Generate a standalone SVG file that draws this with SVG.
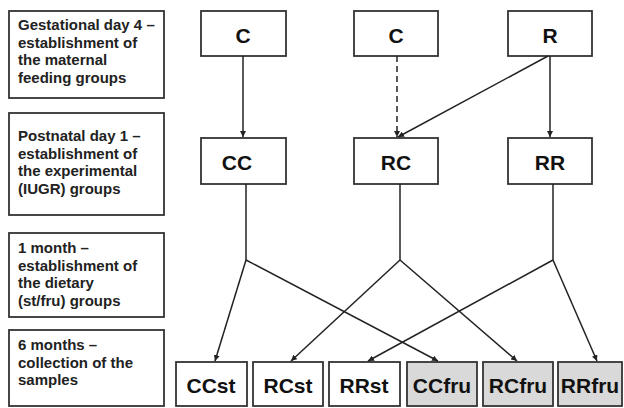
<svg xmlns="http://www.w3.org/2000/svg" width="624" height="408" viewBox="0 0 624 408">
<style>
.box{fill:#fff;stroke:#333;stroke-width:1.8}
.grey{fill:#d9d9d9}
.lt{font-family:"Liberation Sans",Arial,sans-serif;font-weight:bold;font-size:15px;fill:#222}
.nt{font-family:"Liberation Sans",Arial,sans-serif;font-weight:bold;font-size:21px;fill:#111;text-anchor:middle}
.ln{fill:none;stroke:#222;stroke-width:1.5}
</style>
<defs>
<marker id="ah" viewBox="0 0 10 10" refX="10" refY="5" markerWidth="6" markerHeight="6" markerUnits="userSpaceOnUse" orient="auto">
<path d="M0,0 L10,5 L0,10 z" fill="#222"/>
</marker>
</defs>
<rect width="624" height="408" fill="#fff"/>
<g id="stage1"><rect class="box" x="9" y="11" width="155" height="87"/>
<text class="lt" x="18"><tspan x="18" y="30">Gestational day 4 –</tspan><tspan x="18" y="47.5">establishment of</tspan><tspan x="18" y="65">the maternal</tspan><tspan x="18" y="82.5">feeding groups</tspan></text></g>
<g id="stage2"><rect class="box" x="9" y="113" width="155" height="102"/>
<text class="lt"><tspan x="18" y="141">Postnatal day 1 –</tspan><tspan x="18" y="158.5">establishment of</tspan><tspan x="18" y="176">the experimental</tspan><tspan x="18" y="193.5">(IUGR) groups</tspan></text></g>
<g id="stage3"><rect class="box" x="9" y="233" width="155" height="84"/>
<text class="lt"><tspan x="18" y="253">1 month –</tspan><tspan x="18" y="270.5">establishment of</tspan><tspan x="18" y="288">the dietary</tspan><tspan x="18" y="305.5">(st/fru) groups</tspan></text></g>
<g id="stage4"><rect class="box" x="9" y="330" width="155" height="76"/>
<text class="lt"><tspan x="18" y="350">6 months –</tspan><tspan x="18" y="367.5">collection of the</tspan><tspan x="18" y="385">samples</tspan></text></g>

<g id="C1"><rect class="box" x="201" y="11" width="85" height="45"/><text class="nt" x="243" y="43">C</text></g>
<g id="C2"><rect class="box" x="354" y="11" width="84" height="45"/><text class="nt" x="396" y="43">C</text></g>
<g id="R"><rect class="box" x="508" y="11" width="84" height="45"/><text class="nt" x="550" y="43">R</text></g>

<g id="CC"><rect class="box" x="201" y="138" width="85" height="46"/><text class="nt" x="237" y="170">CC</text></g>
<g id="RC"><rect class="box" x="354" y="138" width="84" height="46"/><text class="nt" x="396" y="170">RC</text></g>
<g id="RR"><rect class="box" x="508" y="138" width="84" height="46"/><text class="nt" x="550" y="170">RR</text></g>

<g id="CCst"><rect class="box" x="176" y="362" width="71" height="44"/><text class="nt" x="211" y="393">CCst</text></g>
<g id="RCst"><rect class="box" x="253" y="362" width="70" height="44"/><text class="nt" x="288" y="393">RCst</text></g>
<g id="RRst"><rect class="box" x="329" y="362" width="71" height="44"/><text class="nt" x="364" y="393">RRst</text></g>
<g id="CCfru"><rect class="box grey" x="407" y="362" width="70" height="44"/><text class="nt" x="442" y="393">CCfru</text></g>
<g id="RCfru"><rect class="box grey" x="483" y="362" width="70" height="44"/><text class="nt" x="518" y="393">RCfru</text></g>
<g id="RRfru"><rect class="box grey" x="558" y="362" width="64" height="44"/><text class="nt" x="590" y="393">RRfru</text></g>

<g id="connectors">
<line class="ln" x1="243" y1="56" x2="243" y2="137" marker-end="url(#ah)"/>
<line class="ln" x1="397" y1="56" x2="397" y2="137" stroke-dasharray="6,4" marker-end="url(#ah)"/>
<line class="ln" x1="548" y1="56" x2="398" y2="137" marker-end="url(#ah)"/>
<line class="ln" x1="550" y1="56" x2="550" y2="137" marker-end="url(#ah)"/>
<polyline class="ln" points="246,184 246,260"/>
<polyline class="ln" points="400,184 400,260"/>
<polyline class="ln" points="553,184 553,260"/>
<line class="ln" x1="246" y1="260" x2="215" y2="361" marker-end="url(#ah)"/>
<line class="ln" x1="246" y1="260" x2="438" y2="361" marker-end="url(#ah)"/>
<line class="ln" x1="400" y1="260" x2="291" y2="361" marker-end="url(#ah)"/>
<line class="ln" x1="400" y1="260" x2="517" y2="361" marker-end="url(#ah)"/>
<line class="ln" x1="553" y1="260" x2="368" y2="361" marker-end="url(#ah)"/>
<line class="ln" x1="553" y1="260" x2="597" y2="361" marker-end="url(#ah)"/>
</g>
</svg>
